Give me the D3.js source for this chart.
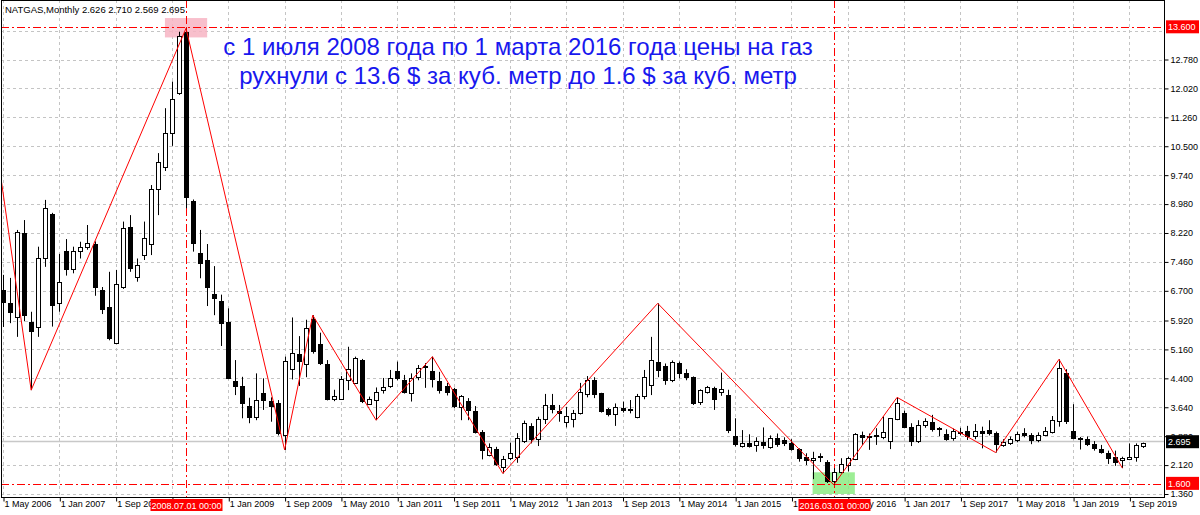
<!DOCTYPE html>
<html><head><meta charset="utf-8">
<script src="https://cdn.jsdelivr.net/npm/d3@7"></script>
<style>
body{margin:0;background:#fff;}
svg{display:block;}
text{font-family:"Liberation Sans",Arial,sans-serif;}
</style>
</head><body>
<svg id="c" width="1200" height="515"></svg>
<script>
// ---------- DATA ----------
const symbol = "NATGAS,Monthly";
const months = d3.timeMonth.range(new Date(2006,4,1), new Date(2019,11,1)); // May 2006 .. Nov 2019
const open  = [6.72,6.39,6.02,8.23,5.89,5.76,7.55,8.72,6.39,7.75,7.27,7.75,7.84,7.93,6.72,6.27,5.34,6.79,8.38,7.07,
  7.64,7.93,9.37,9.96,10.86,11.91,13.51,9.05,7.69,7.52,6.61,6.44,5.89,4.33,4.21,3.67,3.39,4.02,3.81,3.74,
  2.91,4.65,5.03,4.78,5.95,5.30,4.77,3.85,3.87,4.36,4.29,4.88,3.73,3.83,4.09,4.20,4.58,4.36,4.02,4.43,
  4.70,4.60,4.33,4.20,4.11,3.65,3.80,3.55,2.99,2.38,2.53,2.08,2.30,2.32,2.76,3.16,2.80,3.32,3.70,3.55,
  3.24,3.32,3.48,3.99,4.36,4.01,3.59,3.46,3.61,3.58,3.39,3.93,4.23,4.84,4.73,4.36,4.79,4.55,4.44,3.79,
  4.05,4.14,4.04,3.96,2.88,2.63,2.69,2.64,2.72,2.59,2.83,2.79,2.71,2.53,2.33,2.25,2.36,2.19,1.70,1.95,
  2.12,2.27,2.91,2.85,2.91,2.87,2.75,3.32,3.48,3.13,2.76,3.17,3.24,3.09,2.94,2.82,3.00,3.02,2.89,3.02,
  3.04,2.96,2.64,2.71,2.77,2.96,2.91,2.77,2.91,3.00,3.29,4.53,3.02,2.84,2.80,2.67,2.55,2.44,2.32,2.25,
  2.28,2.32,2.626];
const high  = [7.12,7.04,8.30,8.56,6.15,7.86,9.09,8.75,7.67,8.06,7.86,7.99,8.43,8.00,6.80,7.20,7.25,8.52,8.69,7.55,
  8.52,9.48,10.32,11.50,12.20,13.51,13.60,9.10,8.30,7.93,7.35,6.60,6.24,4.88,4.44,3.89,4.53,4.40,3.90,3.83,
  4.97,6.00,5.51,5.94,6.06,5.60,4.88,4.10,4.46,5.23,4.97,4.91,3.92,4.16,4.41,4.62,4.84,4.49,4.53,4.75,
  4.80,4.97,4.57,4.28,4.15,3.96,3.88,3.67,3.04,2.69,2.60,2.36,2.71,2.96,3.29,3.22,3.39,3.99,3.99,3.70,
  3.65,3.57,4.28,4.46,4.43,4.02,3.62,3.74,3.79,3.83,3.99,4.62,5.49,6.37,4.79,4.87,4.84,4.64,4.45,4.11,
  4.20,4.18,4.55,4.10,3.35,3.04,2.93,2.85,3.11,2.90,2.95,2.85,2.80,2.56,2.43,2.47,2.43,2.25,2.04,2.30,
  2.34,2.96,3.00,2.95,3.09,3.40,3.35,3.90,3.55,3.22,3.30,3.35,3.44,3.12,3.06,3.08,3.10,3.15,3.20,3.13,
  3.30,3.00,2.80,2.87,3.00,3.09,2.96,2.98,3.12,3.41,4.90,4.64,3.72,2.86,2.87,2.75,2.65,2.50,2.50,2.34,
  2.69,2.69,2.710];
const low   = [5.75,5.85,5.49,5.90,4.09,5.49,7.33,5.76,6.15,7.10,7.16,7.55,7.78,6.57,6.09,5.40,5.30,6.75,7.20,6.94,
  7.51,7.64,8.69,9.85,10.51,11.85,8.87,7.73,7.03,6.30,6.06,5.25,4.38,3.96,3.35,3.22,3.30,3.57,3.26,2.90,
  2.52,4.37,4.20,4.43,5.05,4.75,3.82,3.80,3.85,4.09,4.25,3.75,3.70,3.30,4.00,4.15,4.35,4.00,3.79,4.35,
  4.15,4.16,4.00,3.95,3.62,3.30,3.30,2.95,2.27,2.35,2.10,1.90,2.25,2.18,2.70,2.69,2.62,3.20,3.48,3.26,
  3.11,3.11,3.45,3.90,3.88,3.50,3.40,3.15,3.50,3.48,3.35,3.85,3.96,4.43,4.23,4.30,4.40,4.35,3.70,3.70,
  4.00,3.57,3.94,2.96,2.61,2.58,2.58,2.47,2.55,2.55,2.60,2.62,2.50,2.21,2.12,1.75,2.20,1.65,1.60,1.90,
  1.95,2.25,2.65,2.52,2.65,2.80,2.54,3.30,3.10,2.62,2.70,3.10,3.00,2.88,2.76,2.76,2.90,2.78,2.80,2.56,
  2.90,2.45,2.60,2.65,2.72,2.85,2.67,2.72,2.88,2.95,3.13,3.20,2.80,2.53,2.62,2.50,2.42,2.15,2.10,2.04,
  2.25,2.21,2.569];
const close = [6.41,6.15,8.25,6.06,5.64,7.55,8.87,6.33,6.94,7.27,7.75,7.86,7.96,6.79,6.21,5.45,6.88,8.34,7.29,7.39,
  8.08,9.38,10.09,10.86,11.73,13.40,9.17,7.97,7.44,6.81,6.50,5.86,4.40,4.21,3.76,3.39,3.83,3.83,3.66,2.96,
  4.86,5.06,4.86,5.71,5.13,4.79,3.85,3.94,4.38,4.65,4.94,3.81,3.86,4.05,4.18,4.40,4.42,4.05,4.40,4.68,
  4.72,4.37,4.09,4.05,3.67,3.94,3.57,2.98,2.52,2.60,2.14,2.27,2.45,2.82,3.22,2.80,3.32,3.70,3.59,3.48,
  3.40,3.50,4.05,4.36,3.99,3.55,3.46,3.64,3.57,3.60,3.94,4.43,4.88,4.62,4.36,4.84,4.55,4.43,3.76,4.09,
  4.16,3.85,4.13,3.05,2.67,2.71,2.62,2.74,2.66,2.83,2.67,2.70,2.53,2.30,2.26,2.30,2.33,1.70,1.95,2.15,
  2.30,2.94,2.85,2.88,2.88,2.98,3.35,3.76,3.13,2.76,3.17,3.28,3.06,3.06,2.80,3.02,2.97,2.89,3.02,2.96,
  2.96,2.68,2.73,2.80,2.94,2.91,2.78,2.91,3.02,3.31,4.67,3.29,2.82,2.82,2.68,2.56,2.47,2.30,2.21,2.30,
  2.34,2.65,2.695];

const xTickLabels = ["1 May 2006","1 Jan 2007","1 Sep 2007","1 May 2008","1 Jan 2009","1 Sep 2009","1 May 2010",
  "1 Jan 2011","1 Sep 2011","1 May 2012","1 Jan 2013","1 Sep 2013","1 May 2014","1 Jan 2015","1 Sep 2015",
  "1 May 2016","1 Jan 2017","1 Sep 2017","1 May 2018","1 Jan 2019","1 Sep 2019"];
const yTickValues = [1.36,2.12,2.88,3.64,4.40,5.16,5.92,6.70,7.46,8.22,8.98,9.74,10.50,11.26,12.02,12.78];
const yTickLabels = ["1.360","2.120","2.880","3.640","4.400","5.160","5.920","6.700","7.460","8.220","8.980","9.740","10.500","11.260","12.020","12.780"];

// zigzag pivots (month offset from May 2006, price)
const zigIdx = [-5,4,26,40,44,53,61,71,93,118,127,141,150,159];
const zigVal = [15.78,4.09,13.60,2.52,6.06,3.30,4.97,1.90,6.37,1.60,3.90,2.45,4.90,2.04];

const peakIdx = 26, peakVal = 13.6, peakLabel = "2008.07.01 00:00", peakPrice = "13.600";
const bottomIdx = 118, bottomVal = 1.6, bottomLabel = "2016.03.01 00:00", bottomPrice = "1.600";
const notes = ["с 1 июля 2008 года по 1 марта 2016 года цены на газ",
               "рухнули с 13.6 $ за куб. метр до 1.6 $ за куб. метр"];

// ---------- LAYOUT ----------
const W = 1200, H = 515;
const plotL = 1, plotR = 1164, plotT = 0, plotB = 497;
const svg = d3.select("#c");
svg.append("rect").attr("width",W).attr("height",H).attr("fill","#fff");

const n = open.length;
const x = d3.scaleLinear().domain([0, n-1]).range([3, 3 + (n-1)*7.04]);
const y = d3.scaleLinear().domain([1.36, 12.78]).range([494, 59.5]);
const cx = i => Math.round(x(i)) + 0.5;

svg.append("defs").append("clipPath").attr("id","clip")
  .append("rect").attr("x",plotL).attr("y",plotT).attr("width",plotR-plotL).attr("height",plotB-plotT);
const plot = svg.append("g").attr("clip-path","url(#clip)");

const xTickIdx = xTickLabels.map((d,i)=>i*8);
// grid
const gridCol = "#c4c4c4";
plot.append("g").selectAll("line").data(xTickIdx).join("line")
  .attr("x1",d=>cx(d)).attr("x2",d=>cx(d)).attr("y1",plotT).attr("y2",plotB)
  .attr("stroke",gridCol).attr("stroke-dasharray","3,3");
const gridY = yTickValues.concat([13.54]);
plot.append("g").selectAll("line").data(gridY).join("line")
  .attr("x1",plotL).attr("x2",plotR).attr("y1",d=>Math.round(y(d))+0.5).attr("y2",d=>Math.round(y(d))+0.5)
  .attr("stroke",gridCol).attr("stroke-dasharray","3,3");

// current price line
const last = close[n-1];
plot.append("line").attr("x1",plotL).attr("x2",plotR)
  .attr("y1",Math.round(y(last))-1.5).attr("y2",Math.round(y(last))-1.5)
  .attr("stroke","#c8c8c8").attr("stroke-width",1.5);

// highlight boxes
plot.append("rect").attr("x",x(peakIdx-3)).attr("width",x(peakIdx+3)-x(peakIdx-3))
  .attr("y",y(peakVal+0.27)).attr("height",y(peakVal-0.24)-y(peakVal+0.27))
  .attr("fill","rgb(247,180,195)").attr("opacity",0.85);
plot.append("rect").attr("x",x(bottomIdx-3)).attr("width",x(bottomIdx+3)-x(bottomIdx-3))
  .attr("y",y(bottomVal+0.33)).attr("height",y(bottomVal-0.24)-y(bottomVal+0.33))
  .attr("fill","rgb(140,235,130)").attr("opacity",0.85);

// red dash-dot lines
const dd = "8,3,2,3";
[peakVal,bottomVal].forEach(v=>{
  plot.append("line").attr("x1",plotL).attr("x2",plotR)
    .attr("y1",Math.round(y(v))-0.5).attr("y2",Math.round(y(v))-0.5)
    .attr("stroke","#f00").attr("stroke-dasharray",dd);
});
[peakIdx,bottomIdx].forEach(i=>{
  plot.append("line").attr("x1",cx(i)).attr("x2",cx(i)).attr("y1",plotT).attr("y2",plotB+14)
    .attr("stroke","#f00").attr("stroke-dasharray",dd);
});

// candles
const idx = d3.range(n);
const cg = plot.append("g");
cg.selectAll("line").data(idx).join("line")
  .attr("x1",cx).attr("x2",cx)
  .attr("y1",i=>y(high[i])).attr("y2",i=>y(low[i]))
  .attr("stroke","#000").attr("stroke-width",1);
cg.selectAll("rect").data(idx).join("rect")
  .attr("x",i=>cx(i)-2).attr("width",4)
  .attr("y",i=>Math.round(y(Math.max(open[i],close[i])))+0.5)
  .attr("height",i=>Math.max(1,Math.round(y(Math.min(open[i],close[i])))-Math.round(y(Math.max(open[i],close[i])))))
  .attr("fill",i=>close[i]>=open[i]?"#fff":"#000")
  .attr("stroke","#000").attr("stroke-width",1);

// zigzag
const zz = zigIdx.map((d,i)=>[x(d),y(zigVal[i])]);
plot.append("path").attr("d",d3.line()(zz)).attr("fill","none").attr("stroke","#f00").attr("stroke-width",1);

// annotation
notes.forEach((t,i)=>{
  svg.append("text").attr("x",518).attr("y",55+i*29).attr("text-anchor","middle")
    .attr("font-size",24).attr("fill","#1818ee").text(t);
});
// header
svg.append("text").attr("x",5).attr("y",12.5).attr("font-size",9.5).attr("fill","#000")
  .text(symbol+"  "+[open[n-1],high[n-1],low[n-1],close[n-1]].map(v=>v.toFixed(3)).join(" "));

// frame
svg.append("rect").attr("x",plotL+0.5).attr("y",plotT+0.5).attr("width",plotR-plotL).attr("height",plotB-plotT)
  .attr("fill","none").attr("stroke","#000");

// axes
const yAxis = d3.axisRight(y).tickValues(yTickValues).tickFormat((d,i)=>yTickLabels[i]).tickSize(4).tickPadding(2);
const ya = svg.append("g").attr("transform",`translate(${plotR+0.5},0)`).call(yAxis);
ya.select(".domain").remove();
ya.selectAll("text").attr("font-size",9).attr("font-family","Liberation Sans, Arial").attr("fill","#000");

// labels fully hidden under the red time boxes are not drawn
const hiddenX = [peakIdx-2, bottomIdx-2].map(c=>Math.round(c/8)*8);
const xAxis = d3.axisBottom(x).tickValues(xTickIdx)
  .tickFormat((d,i)=> (d===24 ? "" : xTickLabels[i])).tickSize(4).tickPadding(1);
const xa = svg.append("g").attr("transform",`translate(0,${plotB+0.5})`).call(xAxis);
xa.select(".domain").remove();
xa.selectAll(".tick line").attr("transform","translate(0.5,0)");
xa.selectAll("text").attr("font-size",9).attr("font-family","Liberation Sans, Arial").attr("fill","#000")
  .attr("text-anchor","start").attr("dx",1).attr("dy","0.55em");

// red / black value labels
function priceBox(v, label, bg){
  const yc = y(v) - 1.5;
  svg.append("rect").attr("x",plotR+2).attr("y",yc-6.5).attr("width",33).attr("height",13).attr("fill",bg);
  svg.append("text").attr("x",plotR+4).attr("y",yc+3.5).attr("font-size",9).attr("fill","#fff").text(label);
}
priceBox(peakVal, peakPrice, "#f00");
priceBox(bottomVal, bottomPrice, "#f00");
priceBox(last, last.toFixed(3), "#000");
function timeBox(i, label){
  const xc = cx(i);
  svg.append("rect").attr("x",xc-36).attr("y",499).attr("width",72).attr("height",12).attr("fill","#f00");
  svg.append("text").attr("x",xc).attr("y",508.5).attr("text-anchor","middle").attr("font-size",9).attr("fill","#fff").text(label);
}
timeBox(peakIdx, peakLabel);
timeBox(bottomIdx, bottomLabel);
</script>
</body></html>
